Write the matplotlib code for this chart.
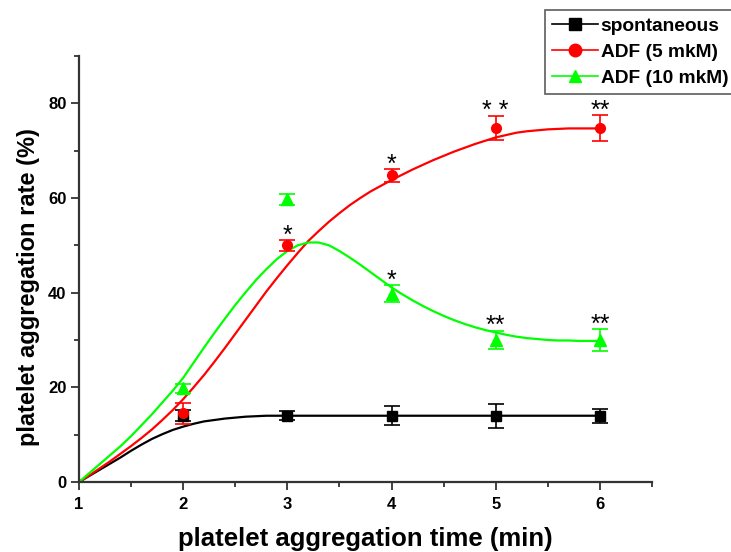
import matplotlib
matplotlib.use('Agg')
import matplotlib.pyplot as plt
import numpy as np
from matplotlib.ticker import MultipleLocator

plt.rcParams['font.family'] = ['Liberation Sans', 'DejaVu Sans']

# --- measured points (mean and error) ---
time_min = [1, 2, 3, 4, 5, 6]

spont = [0, 14, 14, 14, 14, 14]
spont_err = [0, 1.2, 1.0, 2.0, 2.5, 1.5]

adf5 = [0, 14.5, 50, 64.8, 74.8, 74.8]
adf5_err = [0, 2.2, 1.2, 1.4, 2.6, 2.8]

adf10 = [0, 19.8, 59.7, 39.8, 30, 30]
adf10_err = [0, 1.0, 1.2, 1.8, 2.0, 2.4]

# --- fitted curves, every 0.1 min ---
fit_x = np.linspace(1, 6, 51)
fit_spont = [0, 1.3, 2.6, 3.9, 5.2, 6.6, 7.9, 9.1, 10.1, 11.0,
             11.7, 12.3, 12.8, 13.1, 13.4, 13.6, 13.8, 13.9, 14.0, 14.0,
             14.0, 14.0, 14.0, 14.0, 14.0, 14.0, 14.0, 14.0, 14.0, 14.0,
             14.0, 14.0, 14.0, 14.0, 14.0, 14.0, 14.0, 14.0, 14.0, 14.0,
             14.0, 14.0, 14.0, 14.0, 14.0, 14.0, 14.0, 14.0, 14.0, 14.0, 14.0]
fit_adf5 = [0, 1.4, 2.9, 4.4, 6.0, 7.6, 9.3, 11.1, 13.1, 15.2,
            17.5, 20.0, 22.6, 25.4, 28.3, 31.3, 34.3, 37.3, 40.3, 43.1,
            45.8, 48.4, 50.9, 53.0, 55.0, 56.8, 58.5, 60.0, 61.4, 62.6,
            63.8, 64.9, 66.0, 67.0, 68.0, 68.9, 69.8, 70.6, 71.4, 72.1,
            72.8, 73.3, 73.8, 74.1, 74.3, 74.5, 74.6, 74.7, 74.7, 74.7, 74.7]
fit_adf10 = [0, 1.9, 3.8, 5.7, 7.6, 9.7, 12.0, 14.3, 16.8, 19.3,
             22.0, 25.2, 28.4, 31.5, 34.5, 37.4, 40.1, 42.7, 45.0, 47.1,
             48.8, 50.0, 50.6, 50.6, 50.0, 48.8, 47.4, 45.9, 44.3, 42.7,
             41.1, 39.7, 38.4, 37.2, 36.1, 35.1, 34.2, 33.4, 32.7, 32.1,
             31.6, 31.1, 30.7, 30.4, 30.2, 30.0, 29.9, 29.9, 29.8, 29.8, 29.8]

# significance marks: (series, index, label)
stars = [('adf5', 2, '*'), ('adf5', 3, '*'), ('adf5', 4, '* *'), ('adf5', 5, '**'),
         ('adf10', 3, '*'), ('adf10', 4, '**'), ('adf10', 5, '**')]

series = {
    'spont': (spont, spont_err, fit_spont, 'black', 's', 'spontaneous'),
    'adf5': (adf5, adf5_err, fit_adf5, '#ff0000', 'o', 'ADF (5 mkM)'),
    'adf10': (adf10, adf10_err, fit_adf10, '#00ff00', '^', 'ADF (10 mkM)'),
}

fig = plt.figure(figsize=(7.31, 5.52), dpi=100)
ax = fig.add_axes([79 / 731, 1 - 482 / 552, 573 / 731, 426 / 552])

handles = []
for key in ['spont', 'adf5', 'adf10']:
    vals, errs, fit, color, marker, label = series[key]
    ax.plot(fit_x, fit, color=color, lw=1.6, zorder=2)
    ax.errorbar(time_min[1:], vals[1:], yerr=errs[1:], fmt=marker, color=color,
                ms=7 if marker != '^' else 8.5, capsize=6, elinewidth=1.2,
                capthick=1.2, zorder=3)
    h, = ax.plot([], [], color=color, marker=marker, lw=1.2, ms=9)
    h.set_label(label)
    handles.append(h)

for key, i, txt in stars:
    vals, errs = series[key][0], series[key][1]
    ax.annotate(txt, (time_min[i], vals[i] + errs[i]), xytext=(0, -2),
                textcoords='offset points', ha='center', va='baseline',
                fontsize=18, color='black')

ax.set_xlim(1, 6.5)
ax.set_ylim(0, 90)
ax.xaxis.set_major_locator(MultipleLocator(1))
ax.xaxis.set_minor_locator(MultipleLocator(0.5))
ax.yaxis.set_minor_locator(MultipleLocator(10))
ax.set_yticks([0, 20, 40, 60, 80])

for s in ['top', 'right']:
    ax.spines[s].set_visible(False)
for s in ['left', 'bottom']:
    ax.spines[s].set_linewidth(1.6)
    ax.spines[s].set_color('#333333')

ax.tick_params(which='major', length=6, width=1.3, color='#333333',
               labelsize=12, pad=3)
ax.tick_params(which='minor', length=3.5, width=1.3, color='#333333')
ax.tick_params(axis='x', which='major', pad=5)
for lab in ax.get_xticklabels() + ax.get_yticklabels():
    lab.set_fontweight('bold')

ax.set_xlabel('platelet aggregation time (min)', fontsize=18.5, fontweight='bold')
ax.xaxis.label.set_va('baseline')
ax.xaxis.set_label_coords(0.5, (482 - 546) / 426)
ax.set_ylabel('platelet aggregation rate (%)', fontsize=17, fontweight='bold')
ax.yaxis.set_label_coords((40 - 79) / 573, (482 - 287) / 426)

leg = fig.legend(handles=handles, loc='upper left',
                 bbox_to_anchor=(545 / 731, 1 - 10 / 552),
                 prop={'weight': 'bold', 'size': 13.8}, frameon=True,
                 fancybox=False, handlelength=2.4, handletextpad=0.12,
                 borderpad=0.38, labelspacing=0.45, borderaxespad=0)
leg.get_frame().set_edgecolor('#333333')
leg.get_frame().set_linewidth(1.2)

fig.savefig('out.png', dpi=100)
